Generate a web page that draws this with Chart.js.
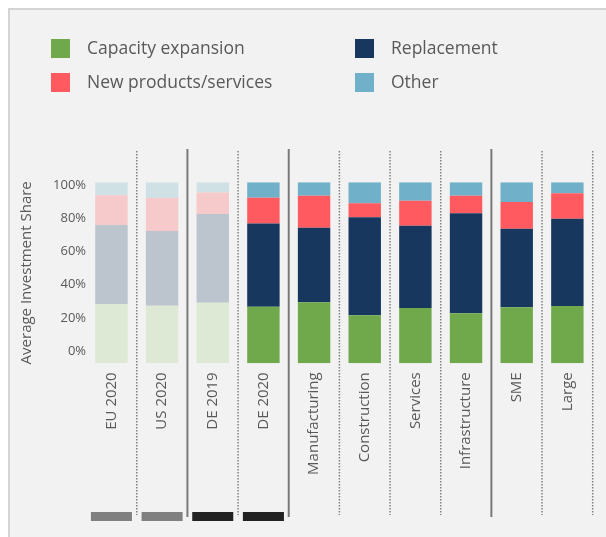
<!DOCTYPE html>
<html>
<head>
<meta charset="utf-8">
<script src="https://cdn.jsdelivr.net/npm/chart.js@4/dist/chart.umd.min.js"></script>
<style>
  html, body { margin: 0; background: #fff; overflow: hidden; }
  #panel { position: absolute; left: 8px; top: 8px; width: 640px; height: 580px; background: #f2f2f2; border: 2px solid #d4d4d4; }
  #wrap { position: absolute; left: 0; top: 0; width: 606px; height: 537px; }
</style>
</head>
<body>
<div id="panel"></div>
<div id="wrap"><canvas id="chart"></canvas></div>
<script>
// data
const categories = ['EU 2020', 'US 2020', 'DE 2019', 'DE 2020', 'Manufacturing', 'Construction', 'Services', 'Infrastructure', 'SME', 'Large'];
const capacityExpansion = [32.8, 31.8, 33.5, 31.3, 33.7, 26.5, 30.6, 27.6, 30.9, 31.7];
const replacement       = [43.6, 41.3, 49.0, 46.0, 41.2, 54.2, 45.4, 55.3, 43.5, 48.2];
const newProducts       = [16.4, 18.2, 11.8, 14.2, 17.7,  7.7, 13.8,  9.7, 14.7, 14.0];
const other             = [ 7.2,  8.7,  5.7,  8.5,  7.4, 11.6, 10.2,  7.4, 10.9,  6.1];
const yTicks = [0, 20, 40, 60, 80, 100];

// styling
const seriesColors = ['#70a94c', '#17375e', '#ff5a5f', '#70b0c8'];
const fadedColors  = ['#dde9d4', '#bcc4ce', '#f6c9ca', '#d0e1e6'];
const fadedCount = 3; // first three bars are greyed out
const separators = ['dot', 'solid', 'dot', 'solid', 'dot', 'dot', 'dot', 'solid', 'dot', 'dot'];
const markerColors = ['#808080', '#808080', '#222222', '#222222'];

Chart.defaults.font.family = "'Open Sans', sans-serif";
Chart.defaults.color = '#595959';

function series(label, values, i) {
  return {
    label: label,
    data: values,
    backgroundColor: ctx => ctx.dataIndex < fadedCount ? fadedColors[i] : seriesColors[i],
    borderWidth: 0,
    barPercentage: 0.8,
    categoryPercentage: 0.8
  };
}

const legendPlugin = {
  id: 'gridLegend',
  afterDraw(chart) {
    const c = chart.ctx;
    c.save();
    c.font = "17.5px 'Open Sans'";
    c.textBaseline = 'middle';
    chart.data.datasets.forEach((ds, i) => {
      const x = i % 2 ? 355 : 51;
      const y = i < 2 ? 39 : 73;
      c.fillStyle = seriesColors[i];
      c.fillRect(x, y, 19, 19);
      c.fillStyle = '#595959';
      c.fillText(ds.label, x + 36, y + 10);
    });
    c.restore();
  }
};

const sepPlugin = {
  id: 'separators',
  beforeDatasetsDraw(chart) {
    const xs = chart.scales.x;
    const c = chart.ctx;
    const step = xs.getPixelForValue(1) - xs.getPixelForValue(0);
    c.save();
    separators.forEach((kind, i) => {
      const x = xs.getPixelForValue(i) + step / 2;
      c.beginPath();
      if (kind === 'solid') {
        c.setLineDash([]);
        c.lineWidth = 2;
        c.strokeStyle = '#7a7a7a';
        c.moveTo(x, 149);
        c.lineTo(x, 517);
      } else {
        c.setLineDash([1.5, 1.5]);
        c.lineWidth = 1.5;
        c.strokeStyle = '#808080';
        c.moveTo(x, 151);
        c.lineTo(x, 515);
      }
      c.stroke();
    });
    markerColors.forEach((col, i) => {
      const x = xs.getPixelForValue(i);
      c.fillStyle = col;
      c.fillRect(x - step * 0.405, 512, step * 0.81, 9);
    });
    c.restore();
  }
};

new Chart(document.getElementById('chart'), {
  type: 'bar',
  data: {
    labels: categories,
    datasets: [
      series('Capacity expansion', capacityExpansion, 0),
      series('Replacement', replacement, 1),
      series('New products/services', newProducts, 2),
      series('Other', other, 3)
    ]
  },
  options: {
    responsive: true,
    maintainAspectRatio: false,
    animation: false,
    layout: { padding: { top: 182.3, left: 13.5, right: 13.3, bottom: 13.7 } },
    plugins: { legend: { display: false }, tooltip: { enabled: false } },
    scales: {
      x: {
        stacked: true,
        grid: { display: false, drawTicks: false },
        border: { display: false },
        ticks: { minRotation: 90, maxRotation: 90, padding: 9, font: { size: 15 }, color: '#595959' },
        afterFit: axis => { axis.height = 160; }
      },
      y: {
        stacked: true,
        display: false,
        min: 0,
        max: 100
      },
      yl: {
        position: 'left',
        min: -7.4,
        max: 101.6,
        grid: { display: false, drawTicks: false },
        border: { display: false },
        afterBuildTicks: axis => { axis.ticks = yTicks.map(v => ({ value: v })); },
        afterFit: axis => { axis.width = 72.6; },
        ticks: { padding: 0, font: { size: 13 }, color: '#595959', callback: v => v + '%' },
        title: { display: true, text: 'Average Investment Share', font: { size: 15 }, color: '#595959' }
      }
    }
  },
  plugins: [legendPlugin, sepPlugin]
});
</script>
</body>
</html>
